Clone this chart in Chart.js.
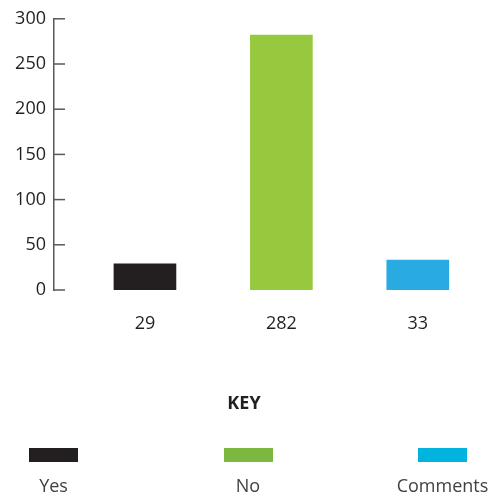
<!DOCTYPE html>
<html>
<head>
<meta charset="utf-8">
<script src="https://cdn.jsdelivr.net/npm/chart.js@4/dist/chart.umd.min.js"></script>
<style>
  html, body { margin: 0; padding: 0; background: #fff; }
  #wrap { position: relative; width: 496px; height: 495px; font-family: "Open Sans", sans-serif; }
  #chart { position: absolute; left: 0; top: 0; }
  #key-title { position: absolute; left: 0; width: 488px; top: 390px; text-align: center; font-weight: bold; font-size: 18px; color: #231f20; }
  .key-item { position: absolute; top: 448px; width: 140px; margin-left: -70px; text-align: center; }
  .key-item .swatch { width: 49px; height: 14px; margin: 0 auto; }
  .key-item .label { margin-top: 11px; font-size: 18px; line-height: 24px; color: #414042; }
</style>
</head>
<body>
<div id="wrap">
  <canvas id="chart" width="496" height="495"></canvas>
  <div id="key-title">KEY</div>
  <div id="key"></div>
</div>
<script>
let categories = ["Yes", "No", "Comments"];
let counts = [29, 282, 33];
let barColours = ["#231f20", "#97c93f", "#29abe2"];
let keyColours = ["#231f20", "#7ab840", "#00b4de"];
let yTicks = [0, 50, 100, 150, 200, 250, 300];

// small inward tick marks on the y axis line
let yTickMarks = {
    id: "yTickMarks",
    afterDraw(chart) {
        let ctx = chart.ctx;
        let y = chart.scales.y;
        let left = chart.chartArea.left;
        ctx.save();
        ctx.strokeStyle = "#58595b";
        ctx.lineWidth = 1.5;
        yTicks.forEach((v) => {
            let py = y.getPixelForValue(v);
            ctx.beginPath();
            ctx.moveTo(left, py);
            ctx.lineTo(left + 11, py);
            ctx.stroke();
        });
        ctx.restore();
    }
};

let chartCanvas = document.getElementById("chart").getContext('2d');
let graph = new Chart(chartCanvas, {
    type: 'bar',
    data: {
        datasets: [{
            data: counts.map((c, i) => ({x: i, y: c})),
            backgroundColor: barColours,
            barThickness: 62,
        }]
    },
    options: {
        responsive: false,
        animation: false,
        layout: {padding: {top: 18, right: 10, bottom: 161, left: 0}},
        plugins: {legend: {display: false}, tooltip: {enabled: false}},
        scales: {
            x: {
                type: 'linear',
                offset: false,
                min: -2 / 3,
                max: 2.5,
                afterBuildTicks: (scale) => {
                    scale.ticks = categories.map((c, i) => ({value: i}));
                },
                afterFit: (scale) => { scale.height = 44; },
                grid: {display: false, drawTicks: false},
                border: {display: false},
                ticks: {
                    padding: 23,
                    color: "#231f20",
                    font: {family: "Open Sans", size: 18},
                    callback: (v) => counts[v],
                },
            },
            y: {
                min: 0,
                max: 300,
                afterBuildTicks: (scale) => {
                    scale.ticks = yTicks.map((v) => ({value: v}));
                },
                afterFit: (scale) => { scale.width = 54; },
                grid: {display: false, drawTicks: false},
                border: {display: true, color: "#58595b", width: 1.5},
                ticks: {
                    padding: 8,
                    color: "#231f20",
                    font: {family: "Open Sans", size: 18},
                },
            },
        },
    },
    plugins: [yTickMarks],
});

// key underneath the chart
let key = document.getElementById("key");
categories.forEach((name, i) => {
    let item = document.createElement("div");
    item.className = "key-item";
    item.style.left = (53.5 + i * 194.5) + "px";
    item.innerHTML = '<div class="swatch" style="background:' + keyColours[i] + '"></div><div class="label">' + name + '</div>';
    key.appendChild(item);
});
</script>
</body>
</html>
